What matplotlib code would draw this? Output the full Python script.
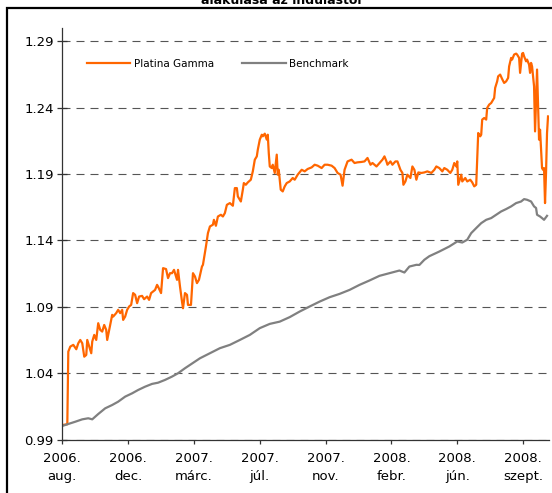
import matplotlib.pyplot as plt
from matplotlib.patches import Rectangle

# kereskedési napok sorszáma és az árfolyamok (leolvasva)
platina_nap = [0, 5, 6, 8, 11, 14, 16, 18, 20, 22, 24, 25, 27, 29, 30, 32, 34, 36, 38, 40,
               42, 44, 45, 47, 50, 51, 54, 56, 58, 60, 61, 63, 65, 67, 69, 71, 73, 75, 77, 80,
               82, 85, 87, 89, 91, 93, 95, 96, 99, 101, 104, 106, 108, 110, 112, 115, 116, 118, 120, 121,
               123, 125, 126, 129, 131, 133, 135, 137, 140, 141, 144, 146, 148, 151, 152, 154, 156, 159, 161, 163,
               165, 168, 171, 173, 175, 176, 179, 181, 182, 184, 186, 189, 191, 193, 195, 196, 198, 200, 201, 203,
               205, 206, 207, 208, 210, 211, 213, 215, 216, 217, 219, 221, 223, 225, 228, 231, 233, 236, 240, 243,
               246, 250, 253, 256, 260, 263, 266, 270, 273, 276, 279, 281, 283, 286, 290, 293, 296, 300, 303, 306,
               309, 311, 315, 318, 321, 323, 325, 326, 329, 331, 334, 336, 339, 341, 342, 344, 346, 349, 351, 353,
               355, 357, 360, 363, 366, 370, 373, 375, 378, 381, 383, 386, 389, 391, 393, 395, 396, 397, 400, 401,
               404, 406, 409, 411, 413, 415, 417, 419, 420, 421, 423, 425, 426, 428, 430, 431, 433, 434, 435, 436,
               437, 439, 441, 443, 445, 447, 448, 450, 451, 453, 455, 456, 458, 459, 461, 462, 463, 465, 466, 468,
               469, 470, 471, 473, 474, 475, 476, 477, 478, 479, 480, 481, 482, 483, 484, 485, 486, 487]
platina_ertek = [1.0009, 1.0015, 1.0562, 1.0600, 1.0613, 1.0580, 1.0625, 1.0650, 1.0625, 1.0524,
                 1.0537, 1.0650, 1.0600, 1.0550, 1.0638, 1.0688, 1.0650, 1.0776, 1.0726, 1.0713,
                 1.0763, 1.0726, 1.0650, 1.0726, 1.0839, 1.0826, 1.0852, 1.0877, 1.0852, 1.0877,
                 1.0801, 1.0826, 1.0877, 1.0902, 1.0914, 1.1003, 1.0990, 1.0927, 1.0977, 1.0982,
                 1.0957, 1.0977, 1.0952, 1.1003, 1.1015, 1.1027, 1.1065, 1.1052, 1.1003, 1.1191,
                 1.1184, 1.1116, 1.1153, 1.1153, 1.1178, 1.1103, 1.1178, 1.1052, 1.0939, 1.0889,
                 1.1003, 1.0990, 1.0914, 1.0914, 1.1153, 1.1128, 1.1078, 1.1103, 1.1203, 1.1216,
                 1.1354, 1.1455, 1.1505, 1.1518, 1.1555, 1.1510, 1.1580, 1.1593, 1.1580, 1.1606,
                 1.1668, 1.1681, 1.1661, 1.1794, 1.1794, 1.1731, 1.1693, 1.1782, 1.1832, 1.1819,
                 1.1837, 1.1857, 1.1920, 1.2008, 1.2033, 1.2083, 1.2159, 1.2196, 1.2184, 1.2204,
                 1.2159, 1.2196, 1.2058, 1.1957, 1.1945, 1.1970, 1.1908, 1.2046, 1.1895, 1.1932,
                 1.1782, 1.1769, 1.1807, 1.1832, 1.1844, 1.1870, 1.1857, 1.1895, 1.1932, 1.1920,
                 1.1938, 1.1950, 1.1970, 1.1963, 1.1945, 1.1970, 1.1970, 1.1963, 1.1945, 1.1908,
                 1.1895, 1.1812, 1.1932, 1.1995, 1.2008, 1.1983, 1.1988, 1.1991, 1.1995, 1.2021,
                 1.1970, 1.1983, 1.1957, 1.1983, 1.2008, 1.2033, 1.1995, 1.1970, 1.1995, 1.1970,
                 1.1995, 1.1995, 1.1932, 1.1908, 1.1819, 1.1844, 1.1895, 1.1870, 1.1957, 1.1932,
                 1.1857, 1.1912, 1.1908, 1.1912, 1.1920, 1.1908, 1.1932, 1.1957, 1.1945, 1.1920,
                 1.1945, 1.1932, 1.1908, 1.1932, 1.1983, 1.1957, 1.1995, 1.1819, 1.1895, 1.1844,
                 1.1870, 1.1844, 1.1857, 1.1837, 1.1807, 1.1819, 1.2209, 1.2184, 1.2196, 1.2310,
                 1.2322, 1.2310, 1.2398, 1.2423, 1.2435, 1.2448, 1.2473, 1.2549, 1.2573, 1.2598,
                 1.2636, 1.2649, 1.2616, 1.2586, 1.2598, 1.2624, 1.2711, 1.2775, 1.2762, 1.2800,
                 1.2807, 1.2800, 1.2775, 1.2662, 1.2807, 1.2812, 1.2787, 1.2749, 1.2762, 1.2724,
                 1.2662, 1.2737, 1.2711, 1.2561, 1.2221, 1.2460, 1.2687, 1.2410, 1.2159, 1.2234,
                 1.2083, 1.1945, 1.1932, 1.1945, 1.1681, 1.1908, 1.2209, 1.2334]

bench_nap = [0, 6, 13, 20, 26, 30, 36, 43, 50, 56, 63, 70, 76, 83, 90, 96, 103, 110, 116, 123,
             128, 138, 148, 158, 168, 178, 188, 198, 208, 218, 228, 238, 248, 258, 268, 278, 288, 298, 308, 318,
             328, 338, 343, 348, 355, 358, 363, 368, 378, 388, 396, 401, 406, 410, 415, 420, 425, 430, 435, 440,
             445, 450, 455, 460, 463, 466, 470, 473, 475, 476, 479, 481, 483, 486]
bench_ertek = [1.0002, 1.0017, 1.0034, 1.0052, 1.0060, 1.0052, 1.0092, 1.0135, 1.0160, 1.0185,
               1.0223, 1.0248, 1.0273, 1.0298, 1.0319, 1.0328, 1.0349, 1.0374, 1.0399, 1.0437,
               1.0462, 1.0512, 1.0550, 1.0588, 1.0613, 1.0650, 1.0688, 1.0739, 1.0771, 1.0788,
               1.0822, 1.0864, 1.0902, 1.0939, 1.0972, 1.0997, 1.1027, 1.1065, 1.1098, 1.1133,
               1.1153, 1.1173, 1.1158, 1.1203, 1.1216, 1.1215, 1.1254, 1.1281, 1.1316, 1.1354,
               1.1392, 1.1384, 1.1405, 1.1455, 1.1493, 1.1530, 1.1555, 1.1568, 1.1593, 1.1618,
               1.1636, 1.1656, 1.1681, 1.1693, 1.1711, 1.1706, 1.1693, 1.1656, 1.1644, 1.1593,
               1.1580, 1.1568, 1.1555, 1.1585]

x_tick_nap = [0, 66, 132, 198, 264, 330, 396, 462]
x_cimkek = ['2006.\naug.', '2006.\ndec.', '2007.\nmárc.', '2007.\njúl.',
            '2007.\nnov.', '2008.\nfebr.', '2008.\njún.', '2008.\nszept.']
y_tickek = [0.99, 1.04, 1.09, 1.14, 1.19, 1.24, 1.29]

fig = plt.figure(figsize=(5.52, 4.93), dpi=100)
ax = fig.add_axes([0.1129, 0.1085, 0.8808, 0.8347])

ax.plot(platina_nap, platina_ertek, color='#FF6600', lw=1.6, label='Platina Gamma')
ax.plot(bench_nap, bench_ertek, color='#808080', lw=1.6, label='Benchmark')

ax.set_xlim(0, 487.5)
ax.set_ylim(0.99, 1.30)
ax.set_yticks(y_tickek)
ax.set_yticklabels([f'{v:.2f}' for v in y_tickek])
ax.set_xticks(x_tick_nap)
ax.set_xticklabels(x_cimkek, linespacing=1.5)

ax.yaxis.grid(True, color='#555555', lw=0.8, linestyle=(0, (7.2, 5.4)))
ax.set_axisbelow(True)
for s in ['top', 'right']:
    ax.spines[s].set_visible(False)
for s in ['left', 'bottom']:
    ax.spines[s].set_color('#333333')
    ax.spines[s].set_linewidth(0.9)

ax.tick_params(axis='y', direction='inout', length=6.5, width=0.9, color='#333333',
               labelsize=9.5, pad=3)
ax.tick_params(axis='x', direction='out', length=3, width=0.9, color='#333333',
               labelsize=9.5, pad=6)

ax.legend(loc='center left', bbox_to_anchor=(0.05, 0.913), frameon=False, ncol=2,
          fontsize=7.5, handlelength=4.2, handletextpad=0.3, columnspacing=2.7,
          borderpad=0, borderaxespad=0)

# keret és a levágott cím
fig.patches.append(Rectangle((7 / 552, -0.2), 1.5, 1.2 - 8 / 493, transform=fig.transFigure,
                             fill=False, ec='black', lw=1.6, clip_on=False))
fig.text(0.51, 1 - 4.5 / 493, 'alakulása az indulástól', ha='center', va='baseline',
         fontsize=9, fontweight='bold')

fig.savefig('out.png', dpi=100)
